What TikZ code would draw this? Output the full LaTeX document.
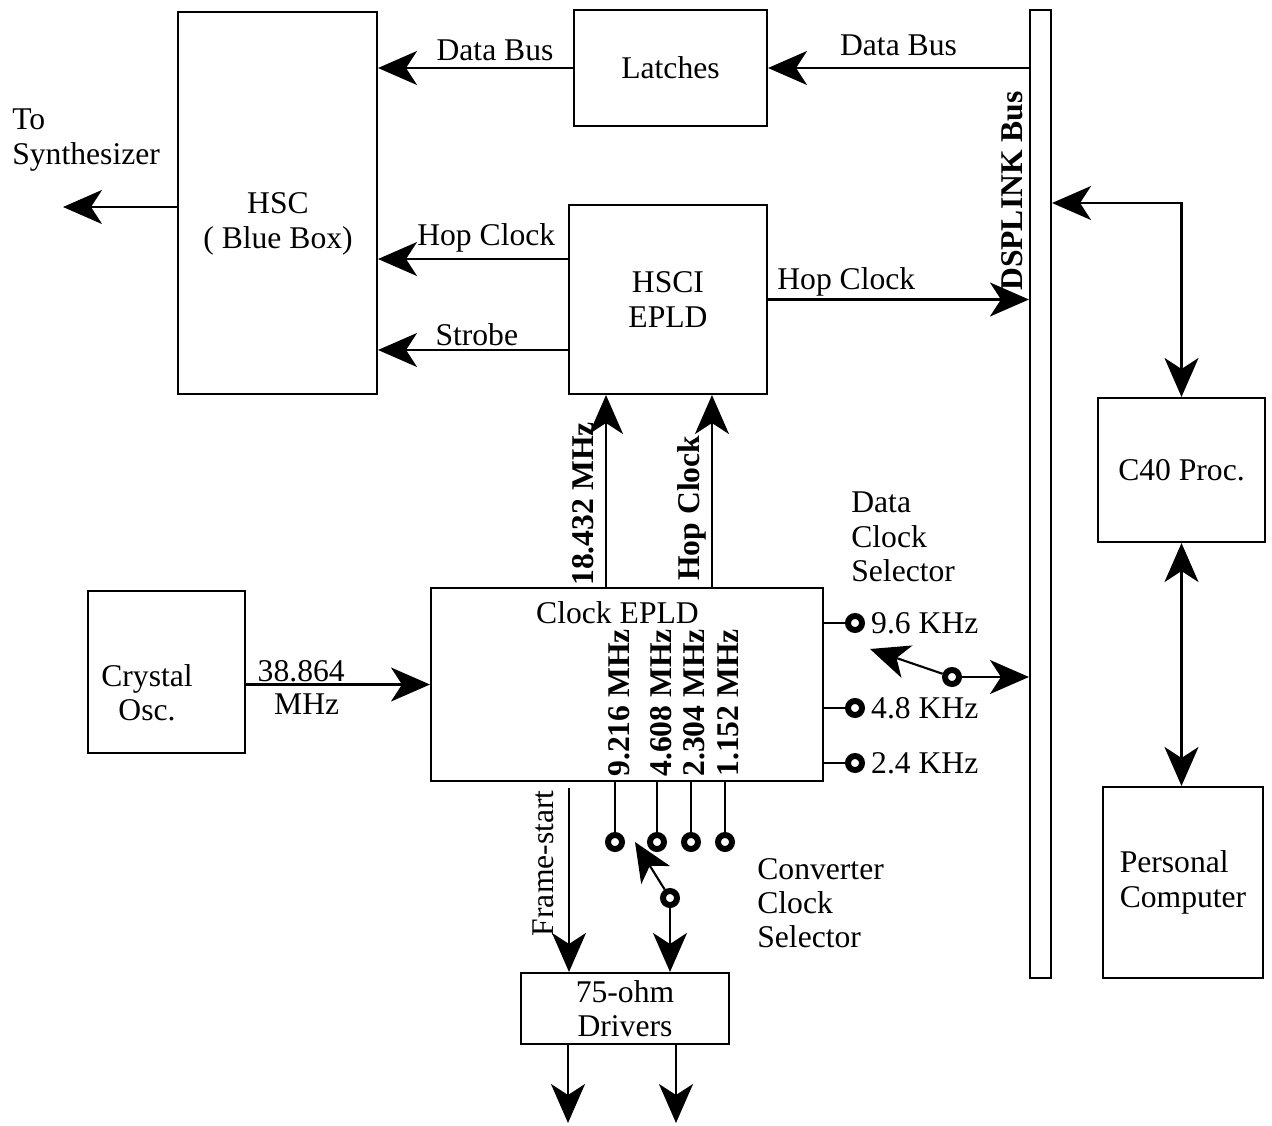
\documentclass[tikz,border=0pt]{standalone}
\usepackage{fontspec}
\setmainfont{Liberation Serif}
\usetikzlibrary{arrows.meta,positioning}

\begin{document}
\begin{tikzpicture}[
    x=0.02cm, y=-0.02cm,
    >={Stealth[length=0.78cm, width=0.68cm, inset=0.22cm]},
    every node/.append style={font=\fontsize{18}{19.5}\selectfont},
    wire/.style={line width=1.2pt},
    blk/.style={draw, line width=1.2pt, align=center, inner sep=0pt},
    rot/.style={rotate=90, inner sep=0pt, font=\fontsize{18}{19.5}\selectfont\bfseries},
    txt/.style={align=left, inner sep=0pt},
    sw/.style={draw, circle, line width=3.4pt, minimum size=0.28cm, inner sep=0pt, fill=white}
    ]

    \useasboundingbox (0,0) rectangle (1272,1126);

    % Blocks
    \node[blk, minimum width=3.98cm, minimum height=7.64cm] (hsc) at (277.5,203) {};
    \node[align=center] (hsctxt) at (278,224) {HSC\\( Blue Box)};
    \node[blk, minimum width=3.86cm, minimum height=2.32cm] (latches) at (670.5,68) {Latches};
    \node[blk, minimum width=3.96cm, minimum height=3.78cm] (hsci) at (668,299.5) {HSCI\\EPLD};
    \node[blk, minimum width=0.42cm, minimum height=19.36cm] (bus) at (1040.5,494) {};
    \node[rot] (buslbl) at (1012,191) {DSPLINK Bus};
    \node[blk, minimum width=3.34cm, minimum height=2.88cm] (c40) at (1181.5,470) {C40 Proc.};
    \node[blk, align=left, minimum width=3.2cm, minimum height=3.82cm] (pc) at (1183,882.5) {Personal\\Computer};
    \node[blk, minimum width=3.14cm, minimum height=3.24cm] (xtal) at (166.5,672) {};
    \node[align=center] (xtaltxt) at (147,693) {Crystal\\Osc.};
    \node[blk, minimum width=7.84cm, minimum height=3.86cm] (clk) at (627,684.5) {};
    \node (clktxt) at (617.5,613) {Clock EPLD};
    \node[blk, minimum width=4.16cm, minimum height=1.42cm] (drv) at (625,1008.5) {75-ohm\\Drivers};

    % Output to synthesizer
    \coordinate (synth) at (63,207);
    \draw[wire, ->] (hsc.west |- synth) -- (synth);
    \node[txt, anchor=west] (synthlbl) at (12,140) {To\\Synthesizer};

    % Data bus path
    \draw[wire, ->] (latches.west) -- (latches.west -| hsc.east) node[pos=0.4, above] (db1) {Data Bus};
    \draw[wire, ->] (bus.west |- latches.east) -- (latches.east) node[midway, above, yshift=0.1cm] (db2) {Data Bus};

    % HSCI outputs
    \draw[wire, ->] ([yshift=0.81cm]hsci.west) coordinate (h1) -- (h1 -| hsc.east) node[pos=0.43, above] (hc1) {Hop Clock};
    \draw[wire, ->] ([yshift=-1.01cm]hsci.west) coordinate (h2) -- (h2 -| hsc.east) node[pos=0.48, above, yshift=-0.06cm] (stb) {Strobe};
    \draw[wire, ->] (hsci.east) -- (hsci.east -| bus.west) node[pos=0.3, above, inner sep=1pt] (hc2) {Hop Clock};

    % Bus to processor and PC
    \coordinate (buslink) at (1182,203);
    \draw[wire, <->] (bus.east |- buslink) -| (c40.north);
    \draw[wire, <->] (c40.south) -- (c40.south |- pc.north);

    % Crystal into clock EPLD
    \draw[wire, ->] (xtal.east |- clk.west) -- (clk.west)
        node[pos=0.3, above, inner sep=1pt] (fx1) {38.864}
        node[pos=0.33, below, inner sep=1pt, yshift=-0.12cm] (fx2) {MHz};

    % Clock EPLD up to HSCI
    \draw[wire, ->] ([xshift=-0.42cm]clk.north) coordinate (u1) -- (u1 |- hsci.south);
    \draw[wire, ->] ([xshift=1.7cm]clk.north) coordinate (u2) -- (u2 |- hsci.south);
    \node[rot, anchor=west] (f18) at (583,586) {18.432 MHz};
    \node[rot, anchor=west] (fhop) at (692,581) {Hop Clock};

    % Converter clocks
    \foreach \n/\x/\f in {f9/619.5/9.216, f4/661/4.608, f2/694/2.304, f1/728/1.152}
        \node[rot, anchor=west] (\n) at (\x,777) {\f\ MHz};

    % Data clock selector
    \node[txt, anchor=west] (dcs) at (851,537) {Data\\Clock\\Selector};
    \foreach \n/\y/\f in {s96/623/9.6, s48/708/4.8, s24/763/2.4} {
        \node[sw] (\n) at (855,\y) {};
        \draw[wire] (clk.east |- \n) -- (\n);
        \node[right=0pt of \n] (l\n) {\f\ KHz};
    }
    \node[sw] (dsel) at (952,677) {};
    \coordinate (dtip) at (870,649);
    \draw[wire, ->] (dsel) -- (dtip);
    \draw[wire, ->] (dsel) -- (bus.west |- dsel);

    % Converter clock selector
    \foreach \n/\x in {c1/615, c2/657, c3/691, c4/725} {
        \node[sw] (\n) at (\x,842) {};
        \draw[wire] (\n |- clk.south) -- (\n);
    }
    \node[sw] (csel) at (670,898) {};
    \coordinate (ctip) at (635,842);
    \draw[wire, ->] (csel) -- (ctip);
    \draw[wire, ->] (csel) -- (csel |- drv.north);
    \node[txt, anchor=west] (ccs) at (757,903) {Converter\\Clock\\Selector};

    % Frame start into drivers
    \coordinate (fstart) at (569,788);
    \draw[wire, ->] (fstart) -- (fstart |- drv.north);
    \node[rotate=90, anchor=east, inner sep=0pt] (fslbl) at (543,790) {Frame-start};

    % Driver outputs
    \coordinate (out1) at (568,1123);
    \coordinate (out2) at (676,1123);
    \draw[wire, ->] (out1 |- drv.south) -- (out1);
    \draw[wire, ->] (out2 |- drv.south) -- (out2);

\end{tikzpicture}
\end{document}
